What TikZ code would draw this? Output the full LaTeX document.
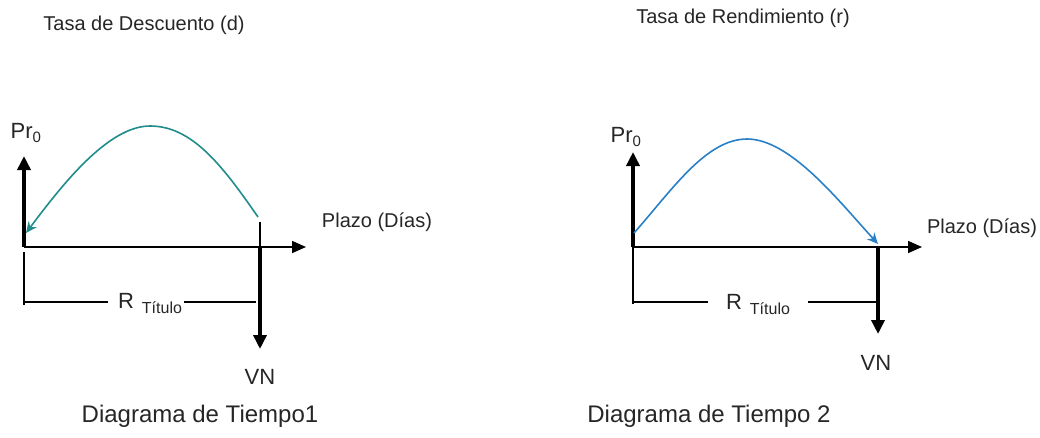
\documentclass[tikz,border=0pt]{standalone}
\usepackage{fontspec}
\setmainfont{Liberation Sans}
\usetikzlibrary{arrows.meta}
\definecolor{tealc}{RGB}{32,140,140}
\definecolor{bluec}{RGB}{40,128,200}
\tikzset{
  txt/.style={inner sep=0pt, font=\fontsize{20}{24}\selectfont, text=black!85},
  big/.style={inner sep=0pt, font=\fontsize{24}{28}\selectfont, text=black!85},
  thickarr/.style={line width=4.5pt, -{Triangle[width=13pt,length=14pt]}},
  axis/.style={line width=1.6pt, -{Triangle[width=12pt,length=14pt]}},
  thin/.style={line width=1.4pt},
  curveA/.style={line width=1.6pt, tealc, -{Stealth[width=10pt,length=11pt]}},
  curveB/.style={line width=1.6pt, bluec, -{Stealth[width=10pt,length=11pt]}},
}
\newcommand{\rtit}{{\fontsize{22}{26}\selectfont R}\hspace{8pt}\raisebox{-5pt}{\fontsize{16}{18}\selectfont Título}}
\begin{document}
\begin{tikzpicture}[x=1pt,y=-1pt]
\useasboundingbox (0,0) rectangle (1040,437);
% ---------- Left diagram ----------
\node[txt] (t1) at (144,25) {Tasa de Descuento (d)};
\coordinate (o1) at (24,247);
\coordinate (u1) at (24,156);
\coordinate (x1) at (306,247);
\coordinate (m1) at (260,247);
\coordinate (m1t) at (260,222);
\coordinate (v1) at (260,349);
\coordinate (c1s) at (258,217);
\coordinate (c1e) at (26,233);
\coordinate (b1a) at (24,252);
\coordinate (b1b) at (24,305);
\coordinate (b1l) at (24,302);
\coordinate (b1r) at (256,302);
\draw[thickarr] (o1) -- (u1);
\draw[axis] (o1) -- (x1);
\draw[thin] (m1t) -- (m1);
\draw[thickarr] (m1) -- (v1);
\draw[curveA] (c1s) .. controls (222,165) and (192,126) .. (150,126)
   .. controls (108,126) and (62,185) .. (c1e);
\node[txt, font=\fontsize{22}{26}\selectfont] (p1) at (26,133) {Pr\textsubscript{\fontsize{15}{18}\selectfont 0}};
\node[txt] (pl1) at (377,222) {Plazo (Días)};
\node[big, font=\fontsize{22}{26}\selectfont] (vn1) at (260,377) {VN};
\node[inner sep=0pt, text=black!85] (r1) at (150,304) {\rtit};
\draw[thin] (b1a) -- (b1b);
\draw[thin] (b1l) -- (108,302) coordinate (b1m);
\draw[thin] (184,302) coordinate (b1n) -- (b1r);
\node[big] (d1) at (200,416) {Diagrama de Tiempo1};
% ---------- Right diagram ----------
\node[txt] (t2) at (743,18) {Tasa de Rendimiento (r)};
\coordinate (o2) at (633,247);
\coordinate (u2) at (633,152);
\coordinate (x2) at (922,247);
\coordinate (m2) at (878,247);
\coordinate (v2) at (878,334);
\coordinate (c2s) at (634,233);
\coordinate (c2e) at (878,244);
\coordinate (b2a) at (633,247);
\coordinate (b2b) at (633,304);
\coordinate (b2l) at (633,302);
\coordinate (b2r) at (878,302);
\draw[thickarr] (o2) -- (u2);
\draw[axis] (o2) -- (x2);
\draw[thickarr] (m2) -- (v2);
\draw[curveB] (c2s) .. controls (672,190) and (706,139) .. (747,139)
   .. controls (790,139) and (838,200) .. (c2e);
\node[txt, font=\fontsize{22}{26}\selectfont] (p2) at (626,137) {Pr\textsubscript{\fontsize{15}{18}\selectfont 0}};
\node[txt] (pl2) at (982,228) {Plazo (Días)};
\node[big, font=\fontsize{22}{26}\selectfont] (vn2) at (876,363) {VN};
\node[inner sep=0pt, text=black!85] (r2) at (758,305) {\rtit};
\draw[thin] (b2a) -- (b2b);
\draw[thin] (b2l) -- (708,302) coordinate (b2m);
\draw[thin] (808,302) coordinate (b2n) -- (b2r);
\node[big] (d2) at (709,416) {Diagrama de Tiempo 2};
\end{tikzpicture}
\end{document}
